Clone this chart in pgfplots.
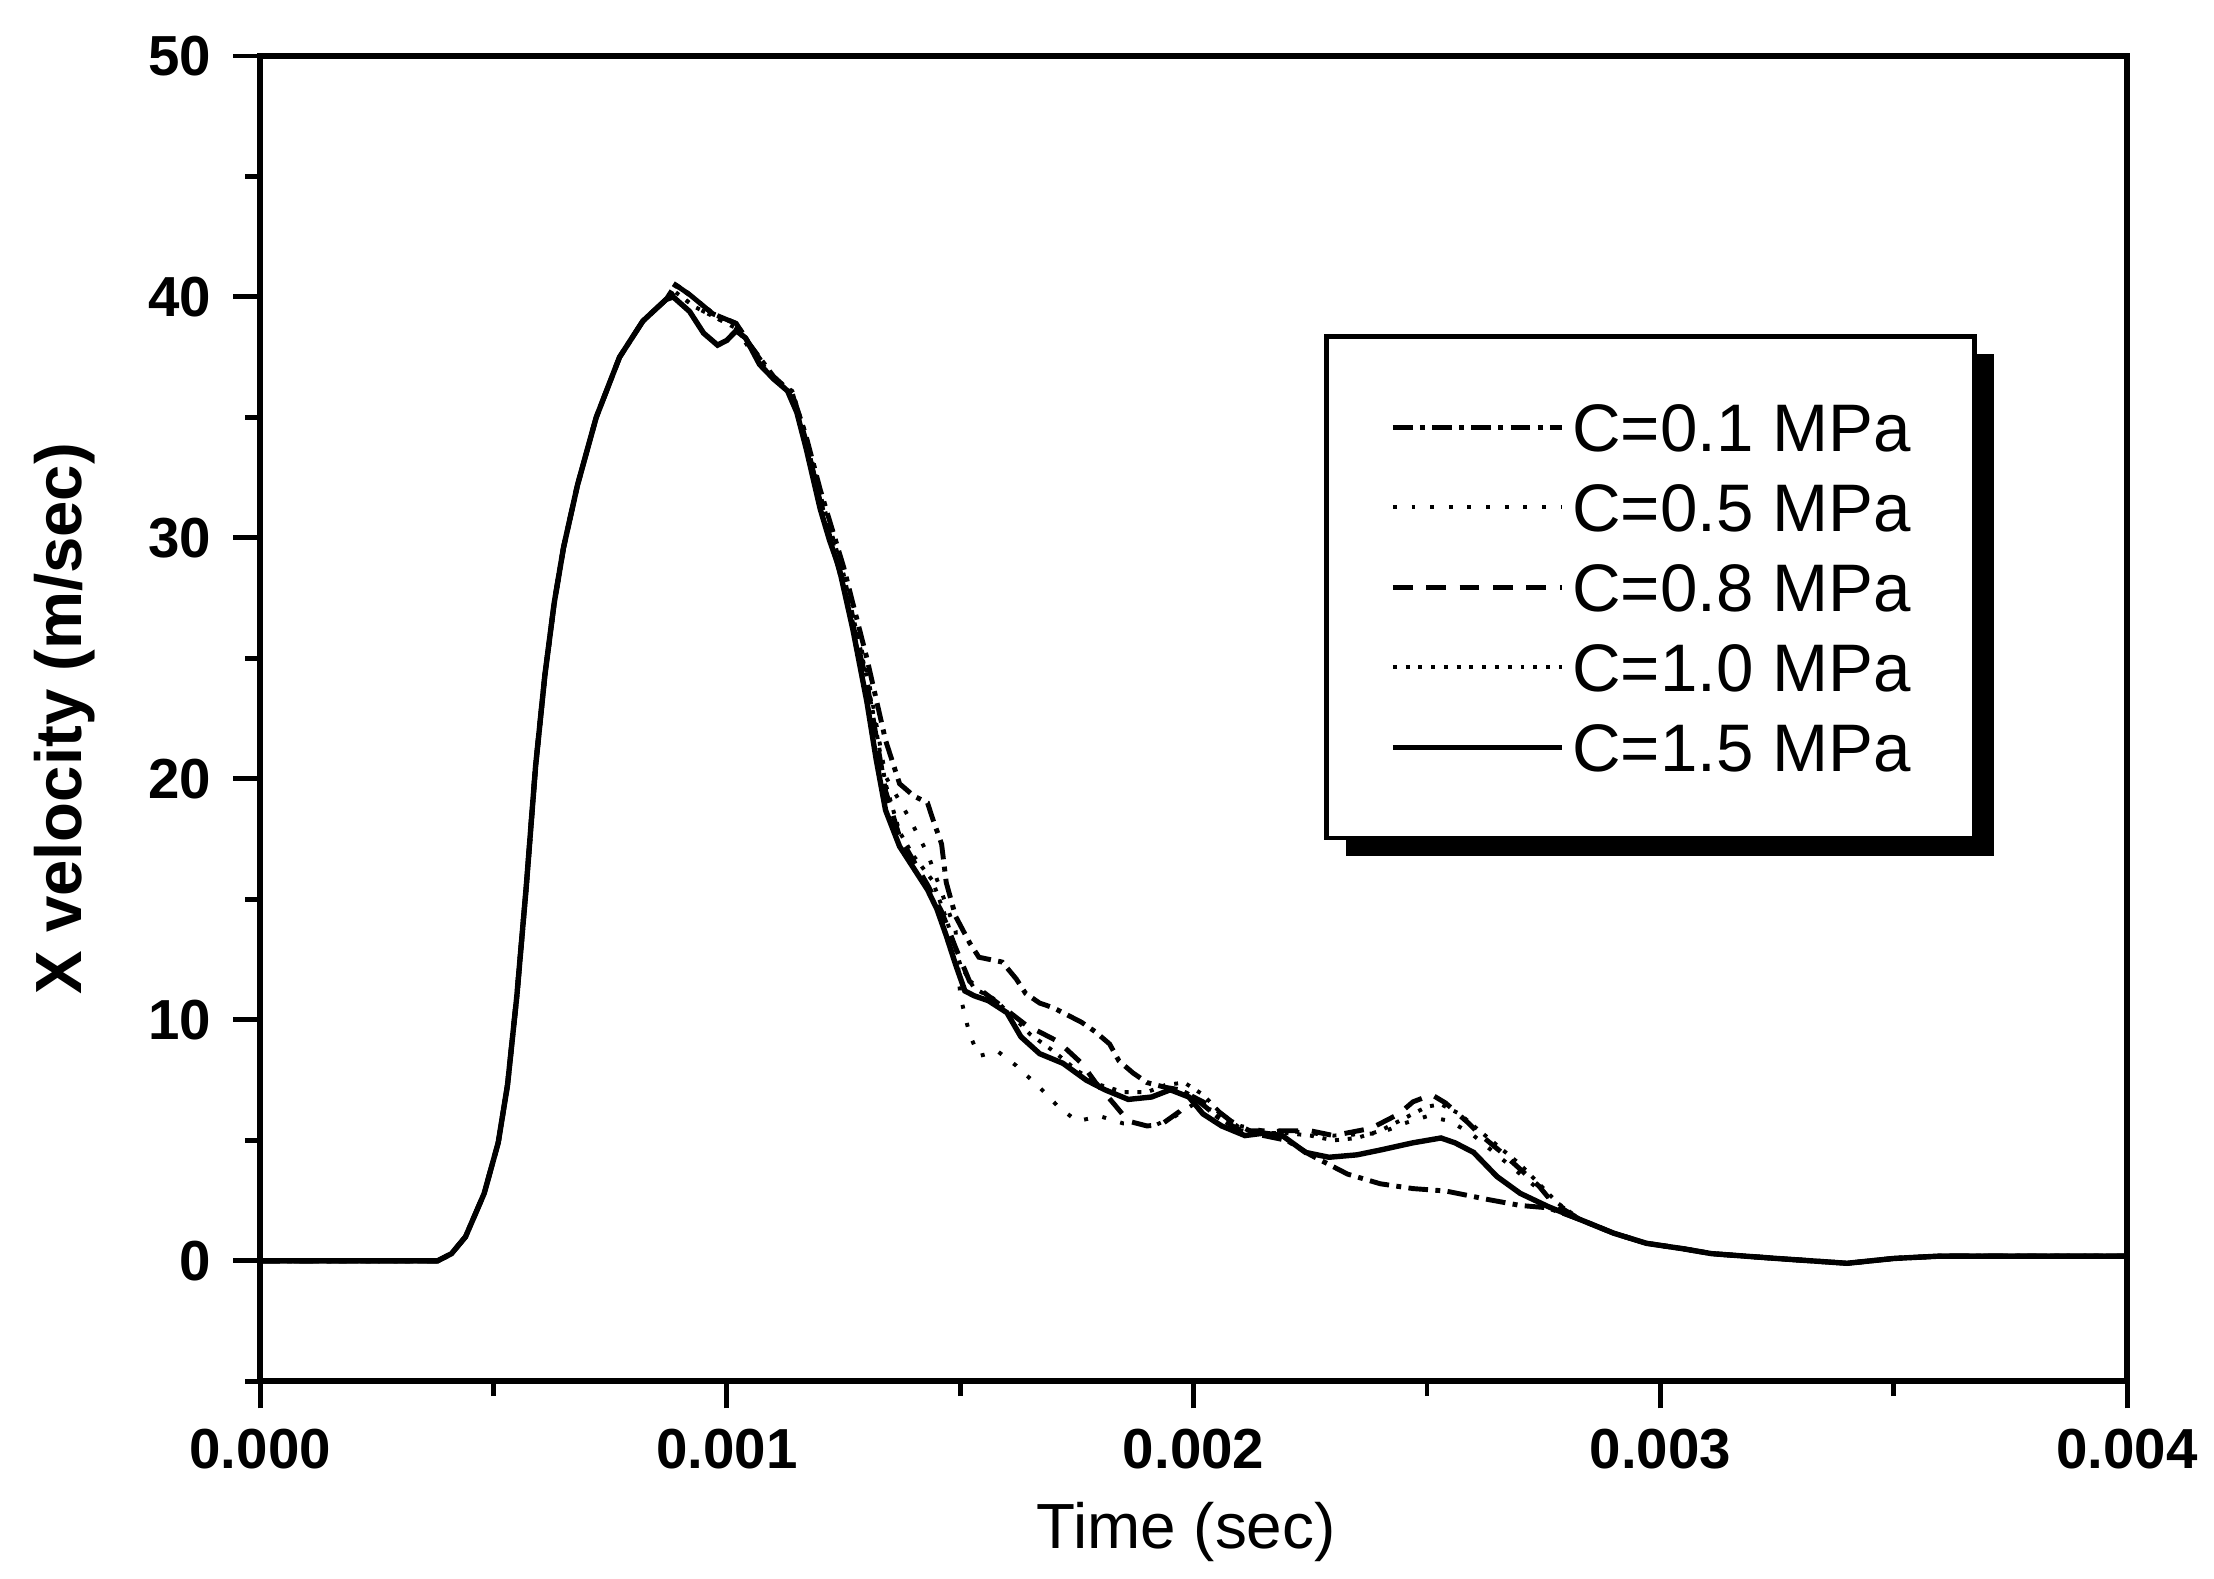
\documentclass[border=0pt]{standalone}
\usepackage{fontspec}
\setmainfont{Liberation Sans}
\usepackage{pgfplots}
\pgfplotsset{compat=1.18}

\begin{document}
\begin{tikzpicture}
\begin{axis}[
  scale only axis, width=380.3pt, height=270pt,
  xmin=0, xmax=0.004, ymin=-5, ymax=50,
  xtick={0,0.001,0.002,0.003,0.004},
  xticklabels={0.000,0.001,0.002,0.003,0.004},
  minor xtick={0.0005,0.0015,0.0025,0.0035},
  ytick={0,10,20,30,40,50},
  minor ytick={-5,5,15,25,35,45},
  scaled x ticks=false,
  tick align=outside, tick pos=left,
  major tick length=5.5pt, minor tick length=3pt,
  every tick/.style={line width=1pt, black},
  axis line style={line width=1.2pt},
  ticklabel style={font=\fontsize{11.5}{13}\selectfont\bfseries},
  xticklabel style={yshift=-0.7pt},
  yticklabel style={xshift=-1pt},
  /pgf/number format/assume math mode=true,
  xlabel={Time (sec)}, ylabel={X velocity (m/sec)},
  xlabel style={font=\fontsize{13}{15}\selectfont, at={(axis description cs:0.496,-0.114)}, anchor=center},
  ylabel style={font=\fontsize{13.3}{15}\selectfont\bfseries, at={(axis description cs:-0.105,0.5)}, anchor=center},
  legend style={at={(axis description cs:0.5698,0.79)}, anchor=north west,
    draw=black, line width=1pt, fill=white,
    font=\fontsize{13.7}{16}\selectfont,
    inner xsep=13pt, inner ysep=10.3pt, row sep=0pt, column sep=1.5pt,
    nodes={inner sep=0pt, text height=13.05pt, text depth=3.25pt}},
  legend cell align=left,
  legend image code/.code={\draw[#1] (0pt,0pt) -- (34.5pt,0pt);},
]
% legend shadow
\fill[black] ([shift={(4.6pt,-4pt)}]axis description cs:0.5698,0.79) rectangle ([shift={(136.6pt,-106.2pt)}]axis description cs:0.5698,0.79);
% C=0.1 MPa
\addplot[black, line width=1pt, dash pattern=on 4pt off 1.5pt on 1pt off 1.5pt] coordinates {
(0,0) (0.00038,0) (0.00041,0.3) (0.00044,1.0) (0.00048,2.8) (0.00051,4.9) (0.00053,7.3)
(0.00055,11.0) (0.00057,15.5) (0.00059,20.5) (0.00061,24.3) (0.00063,27.3) (0.00065,29.6)
(0.00068,32.2) (0.00072,35.0) (0.00077,37.5) (0.00082,39.0) (0.00087,39.9)
(0.00089,40.5) (0.00092,40.1) (0.00097,39.3) (0.00102,38.9) (0.00105,38.0) (0.0011,36.7)
(0.00114,36.0) (0.00117,34.2) (0.0012,32.0) (0.00125,28.8) (0.0013,25.0) (0.00134,21.6)
(0.00137,19.8) (0.0014,19.3) (0.00143,19.0) (0.00144,18.4) (0.00146,17.3) (0.00147,15.7)
(0.00149,14.3) (0.00152,13.2) (0.00154,12.6) (0.00159,12.4) (0.00162,11.7) (0.00164,11.1)
(0.00167,10.7) (0.0017,10.5) (0.00173,10.2) (0.00176,9.9) (0.00179,9.5) (0.00182,9.0)
(0.00184,8.3) (0.00187,7.8) (0.0019,7.4) (0.00194,7.2) (0.00197,7.1) (0.002,6.8)
(0.00205,6.0) (0.0021,5.4) (0.00215,5.2) (0.0022,5.0) (0.00225,4.4) (0.0023,3.9)
(0.00233,3.6) (0.0024,3.2) (0.00247,3.0) (0.00254,2.9) (0.00263,2.55) (0.0027,2.3)
(0.00276,2.2) (0.00283,1.7) (0.0029,1.15) (0.00297,0.73) (0.00305,0.5) (0.00311,0.3)
(0.00325,0.1) (0.0034,-0.1) (0.0035,0.1) (0.0036,0.2) (0.0038,0.2) (0.004,0.2)
};
\addlegendentry{C=0.1 MPa}
% C=0.5 MPa
\addplot[black, line width=0.8pt, dash pattern=on 0.8pt off 3pt] coordinates {
(0,0) (0.00038,0) (0.00041,0.3) (0.00044,1.0) (0.00048,2.8) (0.00051,4.9) (0.00053,7.3)
(0.00055,11.0) (0.00057,15.5) (0.00059,20.5) (0.00061,24.3) (0.00063,27.3) (0.00065,29.6)
(0.00068,32.2) (0.00072,35.0) (0.00077,37.5) (0.00082,39.0) (0.00087,39.9)
(0.00089,40.2) (0.00093,39.6) (0.00097,39.2) (0.00102,38.7) (0.00105,37.8) (0.0011,36.6)
(0.00114,36.0) (0.00117,34.0) (0.0012,31.6) (0.00125,28.3) (0.0013,24.5) (0.00134,20.1)
(0.00139,18.4) (0.00143,16.9) (0.00146,15.3) (0.00149,13.7) (0.0015,11.0) (0.00151,10.2)
(0.00152,9.4) (0.00154,8.5) (0.00158,8.7) (0.00162,8.1) (0.00167,7.2) (0.00171,6.4)
(0.00175,5.8) (0.0018,6.0) (0.00185,5.7) (0.00192,5.65) (0.00196,6.0) (0.002,6.5)
(0.00205,6.2) (0.0021,5.6) (0.00215,5.4) (0.0022,5.4) (0.00225,5.3) (0.0023,5.2)
(0.0024,5.3) (0.00245,5.7) (0.0025,6.0) (0.00255,5.8) (0.0026,5.2) (0.00265,4.4)
(0.0027,3.6) (0.00275,2.8) (0.0028,2.1) (0.00283,1.7) (0.0029,1.15) (0.00297,0.73)
(0.00305,0.5) (0.00311,0.3) (0.00325,0.1) (0.0034,-0.1) (0.0035,0.1) (0.0036,0.2)
(0.0038,0.2) (0.004,0.2)
};
\addlegendentry{C=0.5 MPa}
% C=0.8 MPa
\addplot[black, line width=1pt, dash pattern=on 4pt off 2.8pt] coordinates {
(0,0) (0.00038,0) (0.00041,0.3) (0.00044,1.0) (0.00048,2.8) (0.00051,4.9) (0.00053,7.3)
(0.00055,11.0) (0.00057,15.5) (0.00059,20.5) (0.00061,24.3) (0.00063,27.3) (0.00065,29.6)
(0.00068,32.2) (0.00072,35.0) (0.00077,37.5) (0.00082,39.0) (0.00087,39.9)
(0.00089,40.5) (0.00092,40.1) (0.00097,39.3) (0.00102,38.9) (0.00105,38.0) (0.0011,36.6)
(0.00114,36.0) (0.00117,34.0) (0.0012,31.5) (0.00125,28.0) (0.0013,24.0) (0.00134,19.5)
(0.00137,17.6) (0.0014,16.6) (0.00143,15.6) (0.00146,14.5) (0.00149,13.0) (0.00152,11.6)
(0.00156,11.0) (0.0016,10.4) (0.00164,9.8) (0.00171,9.1) (0.00176,8.2) (0.00179,7.4)
(0.00183,6.5) (0.00186,5.8) (0.0019,5.6) (0.00193,5.65) (0.00197,6.2) (0.002,6.8)
(0.00204,6.4) (0.00208,5.8) (0.00212,5.4) (0.00218,5.4) (0.00225,5.4) (0.0023,5.2)
(0.00238,5.5) (0.00244,6.1) (0.00247,6.6) (0.00251,6.9) (0.00254,6.55) (0.00259,5.7)
(0.00261,5.3) (0.00266,4.5) (0.0027,3.8) (0.00274,3.1) (0.00277,2.4) (0.00283,1.7)
(0.0029,1.15) (0.00297,0.73) (0.00305,0.5) (0.00311,0.3) (0.00325,0.1) (0.0034,-0.1)
(0.0035,0.1) (0.0036,0.2) (0.0038,0.2) (0.004,0.2)
};
\addlegendentry{C=0.8 MPa}
% C=1.0 MPa
\addplot[black, line width=0.8pt, dash pattern=on 0.8pt off 1.8pt] coordinates {
(0,0) (0.00038,0) (0.00041,0.3) (0.00044,1.0) (0.00048,2.8) (0.00051,4.9) (0.00053,7.3)
(0.00055,11.0) (0.00057,15.5) (0.00059,20.5) (0.00061,24.3) (0.00063,27.3) (0.00065,29.6)
(0.00068,32.2) (0.00072,35.0) (0.00077,37.5) (0.00082,39.0) (0.00087,39.9)
(0.00089,40.2) (0.00093,39.6) (0.00097,39.2) (0.00102,38.7) (0.00105,37.9) (0.0011,36.6)
(0.00114,36.1) (0.00117,34.2) (0.0012,31.8) (0.00125,28.5) (0.0013,24.2) (0.00134,19.8)
(0.00137,17.8) (0.0014,16.8) (0.00144,15.8) (0.00147,14.2) (0.0015,12.3) (0.00153,11.3)
(0.00157,10.9) (0.00161,10.2) (0.00165,9.4) (0.0017,8.7) (0.00175,7.9) (0.0018,7.3)
(0.00185,7.0) (0.0019,7.0) (0.00194,7.3) (0.00198,7.4) (0.00202,6.9) (0.00206,6.1)
(0.0021,5.5) (0.00215,5.3) (0.0022,5.3) (0.00225,5.2) (0.0023,5.0) (0.00235,5.1)
(0.0024,5.4) (0.00245,5.9) (0.0025,6.4) (0.00253,6.5) (0.00257,6.1) (0.0026,5.6)
(0.00265,4.8) (0.0027,4.0) (0.00274,3.2) (0.00278,2.4) (0.00283,1.7) (0.0029,1.15)
(0.00297,0.73) (0.00305,0.5) (0.00311,0.3) (0.00325,0.1) (0.0034,-0.1) (0.0035,0.1)
(0.0036,0.2) (0.0038,0.2) (0.004,0.2)
};
\addlegendentry{C=1.0 MPa}
% C=1.5 MPa
\addplot[black, line width=1.1pt] coordinates {
(0,0) (0.00038,0) (0.00041,0.3) (0.00044,1.0) (0.00048,2.8) (0.00051,4.9) (0.00053,7.3)
(0.00055,11.0) (0.00057,15.5) (0.00059,20.5) (0.00061,24.3) (0.00063,27.3) (0.00065,29.6)
(0.00068,32.2) (0.00072,35.0) (0.00077,37.5) (0.00082,39.0) (0.00087,39.9)
(0.000885,40.0) (0.00092,39.4) (0.00095,38.5) (0.00098,38.0) (0.001,38.2) (0.00102,38.6)
(0.00104,38.3) (0.00107,37.2) (0.0011,36.6) (0.00113,36.1) (0.00115,35.2) (0.00117,33.7)
(0.0012,31.2) (0.00122,29.9) (0.00124,28.8) (0.00127,26.2) (0.0013,23.2) (0.00132,20.8)
(0.00134,18.7) (0.00137,17.2) (0.0014,16.3) (0.00143,15.4) (0.00145,14.6) (0.00147,13.5)
(0.00149,12.3) (0.00151,11.2) (0.00153,11.0) (0.00156,10.8) (0.0016,10.3) (0.00163,9.3)
(0.00167,8.6) (0.00172,8.2) (0.00177,7.5) (0.00181,7.1) (0.00186,6.7) (0.00191,6.8)
(0.00195,7.1) (0.00199,6.8) (0.00202,6.1) (0.00206,5.6) (0.00211,5.2) (0.00215,5.3)
(0.00219,5.2) (0.00224,4.5) (0.00229,4.3) (0.00235,4.4) (0.0024,4.6) (0.00247,4.9)
(0.00253,5.1) (0.00256,4.9) (0.0026,4.5) (0.00265,3.5) (0.0027,2.8) (0.00276,2.25)
(0.00283,1.7) (0.0029,1.15) (0.00297,0.73) (0.00305,0.5) (0.00311,0.3) (0.00325,0.1)
(0.0034,-0.1) (0.0035,0.1) (0.0036,0.2) (0.0038,0.2) (0.004,0.2)
};
\addlegendentry{C=1.5 MPa}
\end{axis}
\path ([shift={(-53pt,-40.2pt)}]current axis.south west) rectangle ([shift={(16.7pt,11.4pt)}]current axis.north east);
\end{tikzpicture}
\end{document}
